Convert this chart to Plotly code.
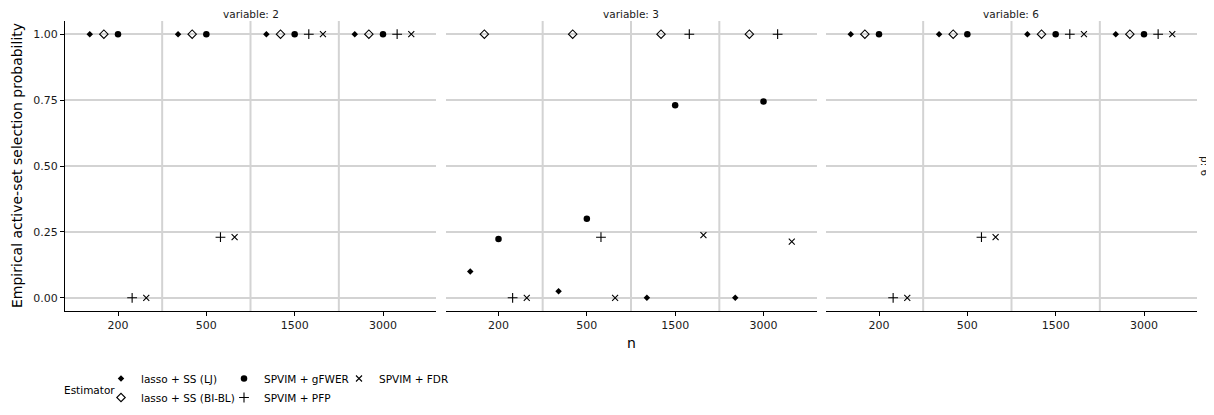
import plotly.graph_objects as go

# ---- data ----
n_labels = ["200", "500", "1500", "3000"]
estimators = ["lasso + SS (LJ)", "lasso + SS (BI-BL)", "SPVIM + gFWER", "SPVIM + PFP", "SPVIM + FDR"]
panels = ["2", "3", "6"]

var2_lasso_lj = [1.0, 1.0, 1.0, 1.0]
var2_lasso_bibl = [1.0, 1.0, 1.0, 1.0]
var2_spvim_gfwer = [1.0, 1.0, 1.0, 1.0]
var2_spvim_pfp = [0.0, 0.23, 1.0, 1.0]
var2_spvim_fdr = [0.0, 0.23, 1.0, 1.0]

var3_lasso_lj = [0.1, 0.025, 0.0, 0.0]
var3_lasso_bibl = [1.0, 1.0, 1.0, 1.0]
var3_spvim_gfwer = [0.223, 0.3, 0.73, 0.745]
var3_spvim_pfp = [0.0, 0.23, 1.0, 1.0]
var3_spvim_fdr = [0.0, 0.0, 0.238, 0.213]

var6_lasso_lj = [1.0, 1.0, 1.0, 1.0]
var6_lasso_bibl = [1.0, 1.0, 1.0, 1.0]
var6_spvim_gfwer = [1.0, 1.0, 1.0, 1.0]
var6_spvim_pfp = [0.0, 0.23, 1.0, 1.0]
var6_spvim_fdr = [0.0, 0.23, 1.0, 1.0]

y_ticks = [0.0, 0.25, 0.5, 0.75, 1.0]
y_ticktext = ["0.00", "0.25", "0.50", "0.75", "1.00"]

panel_data = {
    "2": [var2_lasso_lj, var2_lasso_bibl, var2_spvim_gfwer, var2_spvim_pfp, var2_spvim_fdr],
    "3": [var3_lasso_lj, var3_lasso_bibl, var3_spvim_gfwer, var3_spvim_pfp, var3_spvim_fdr],
    "6": [var6_lasso_lj, var6_lasso_bibl, var6_spvim_gfwer, var6_spvim_pfp, var6_spvim_fdr],
}

# ---- styles ----
FONT = "DejaVu Sans"
GRID = "#d3d3d3"
styles = [
    dict(symbol="diamond", size=5, color="black", line=dict(width=0)),
    dict(symbol="diamond-open", size=6.5, color="black", line=dict(width=1.1, color="black")),
    dict(symbol="circle", size=6.5, color="black", line=dict(width=0)),
    dict(symbol="cross-thin-open", size=7, color="black", line=dict(width=1.1, color="black")),
    dict(symbol="x-thin-open", size=6, color="black", line=dict(width=1.1, color="black")),
]
legend_for = ["legend", "legend", "legend2", "legend2", "legend3"]

# The page body has an 8px margin, so the figure is laid out 8px smaller
OFF = 8
W, H = 1214 - OFF, 415 - OFF
ML, MR, MT, MB = 65 - OFF, 17, 21 - OFF, 104
plot_w = W - ML - MR
plot_h = H - MT - MB
gap = 9.5
pw = (plot_w - 2 * gap) / 3
domains = [[0, pw / plot_w], [(pw + gap) / plot_w, (2 * pw + gap) / plot_w], [(2 * pw + 2 * gap) / plot_w, 1]]

fig = go.Figure()
for pi, p in enumerate(panels):
    xa = "x" if pi == 0 else f"x{pi + 1}"
    ya = "y" if pi == 0 else f"y{pi + 1}"
    for ei, est in enumerate(estimators):
        fig.add_trace(go.Scatter(
            x=n_labels, y=panel_data[p][ei], mode="markers", name=est,
            marker=styles[ei], xaxis=xa, yaxis=ya,
            legendgroup=est, showlegend=(pi == 0), legend=legend_for[ei],
            offsetgroup=est, cliponaxis=False,
        ))

axis_common_x = dict(
    type="category", categoryorder="array", categoryarray=n_labels,
    range=[-0.6, 3.6], showgrid=False, zeroline=False,
    showline=True, linecolor="black", linewidth=1.3,
    ticks="outside", ticklen=4, tickcolor="black", tickwidth=1,
    tickfont=dict(family=FONT, size=11, color="#1a1a1a"),
)
axis_common_y = dict(
    range=[-0.05, 1.05], tickvals=y_ticks, ticktext=y_ticktext,
    showgrid=True, gridcolor=GRID, gridwidth=1.6, zeroline=False,
)

layout = dict(
    width=W, height=H,
    margin=dict(l=ML, r=MR, t=MT, b=MB, autoexpand=False),
    plot_bgcolor="white", paper_bgcolor="white",
    font=dict(family=FONT, size=11, color="black"),
    scattermode="group", scattergap=0.2,
)
for pi in range(3):
    sx = "" if pi == 0 else str(pi + 1)
    xd = dict(axis_common_x, domain=domains[pi], anchor="y" + sx)
    yd = dict(axis_common_y, domain=[0, 1], anchor="x" + sx)
    if pi == 0:
        yd.update(showline=True, linecolor="black", linewidth=1.3, ticks="outside",
                  ticklen=4, tickcolor="black",
                  tickfont=dict(family=FONT, size=11, color="#1a1a1a"))
    else:
        yd.update(showline=False, ticks="", showticklabels=False, matches="y")
    layout["xaxis" + sx] = xd
    layout["yaxis" + sx] = yd

fig.update_layout(**layout)

# vertical separators between n groups (panel grid)
shapes = []
for pi in range(3):
    sx = "" if pi == 0 else str(pi + 1)
    for xv in [0.5, 1.5, 2.5]:
        shapes.append(dict(type="line", xref="x" + sx, yref=f"y{sx} domain",
                           x0=xv, x1=xv, y0=0, y1=1, layer="below",
                           line=dict(color=GRID, width=2)))
fig.update_layout(shapes=shapes)

# convert screen pixel positions (of the 1214x415 view) to paper coords
def px_x(px):
    return (px - OFF - ML) / plot_w

def px_y(py):
    return (H - MB - (py - OFF)) / plot_h

ann = []
for pi, p in enumerate(panels):
    ann.append(dict(text=f"variable: {p}", x=(domains[pi][0] + domains[pi][1]) / 2, y=px_y(14),
                    xref="paper", yref="paper", showarrow=False, xanchor="center", yanchor="middle",
                    font=dict(family=FONT, size=10.5, color="#1a1a1a")))
ann.append(dict(text="p: 6", x=px_x(1205), y=0.5, xref="paper", yref="paper", showarrow=False,
                textangle=90, xanchor="center", yanchor="middle",
                font=dict(family=FONT, size=10.5, color="#1a1a1a")))
ann.append(dict(text="n", x=0.5, y=px_y(343), xref="paper", yref="paper", showarrow=False,
                xanchor="center", yanchor="middle", font=dict(family=FONT, size=14)))
ann.append(dict(text="Empirical active-set selection probability", x=px_x(17), y=0.5,
                xref="paper", yref="paper", showarrow=False, textangle=-90,
                xanchor="center", yanchor="middle", font=dict(family=FONT, size=14)))
ann.append(dict(text="Estimator", x=px_x(62), y=px_y(390), xref="paper", yref="paper",
                showarrow=False, xanchor="left", yanchor="middle",
                font=dict(family=FONT, size=10.5)))
fig.update_layout(annotations=ann)

leg_common = dict(orientation="v", yanchor="top", y=px_y(364), xanchor="left",
                  font=dict(family=FONT, size=10.5), bgcolor="rgba(0,0,0,0)",
                  tracegroupgap=0, itemwidth=30)
fig.update_layout(
    legend=dict(leg_common, x=px_x(101)),
    legend2=dict(leg_common, x=px_x(224)),
    legend3=dict(leg_common, x=px_x(339)),
)

fig.write_html("out.html")
